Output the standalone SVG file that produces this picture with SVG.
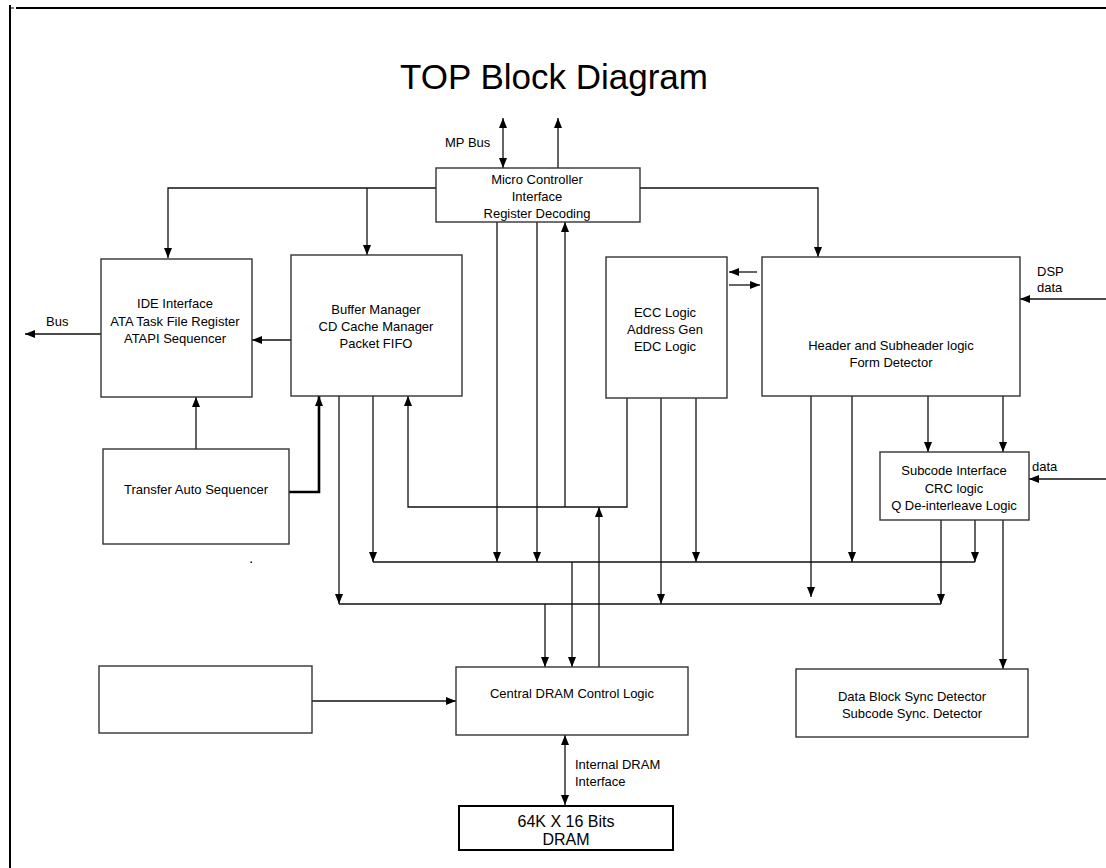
<svg xmlns="http://www.w3.org/2000/svg" width="1106" height="868" viewBox="0 0 1106 868">
<defs>
<style>
text{font-family:"Liberation Sans",Arial,sans-serif;font-size:13px;fill:#000}
.c{text-anchor:middle}
.box{fill:#fff;stroke:#333;stroke-width:1.4}
.ln{fill:none;stroke:#111;stroke-width:1.3}
.thk{fill:none;stroke:#000;stroke-width:2.6}
.frame{fill:none;stroke:#000;stroke-width:2}
</style>
<marker id="a" markerUnits="userSpaceOnUse" markerWidth="10" markerHeight="8" refX="10" refY="4" orient="auto-start-reverse">
<path d="M0,0 L10,4 L0,8 Z" fill="#000"/>
</marker>
</defs>
<rect width="1106" height="868" fill="#fff"/>
<g id="frame">
<line class="frame" x1="10" y1="5" x2="10" y2="868"/>
<line class="frame" x1="16" y1="8" x2="1106" y2="8"/>
<line x1="11" y1="8" x2="14" y2="8" stroke="#000" stroke-width="1"/>
<rect x="250.5" y="561.5" width="1.5" height="1.5" fill="#000"/>
</g>
<text x="554" y="89" class="c" style="font-size:35px">TOP Block Diagram</text>
<g id="connectors">
<path class="ln" d="M503,118 V168" marker-start="url(#a)" marker-end="url(#a)" stroke-width="1.8"/>
<path class="ln" d="M558,168 V118" marker-end="url(#a)"/>
<path class="ln" d="M436,188 H168 V258" marker-end="url(#a)"/>
<path class="ln" d="M367,188 V255" marker-end="url(#a)"/>
<path class="ln" d="M640,188 H818 V257" marker-end="url(#a)"/>
<path class="ln" d="M101,334 H25" marker-end="url(#a)" stroke-width="1.8"/>
<path class="ln" d="M291,340 H252" marker-end="url(#a)" stroke-width="1.8"/>
<path class="ln" d="M196,449 V397" marker-end="url(#a)"/>
<path class="thk" d="M289,492 H319 V396" marker-end="url(#a)"/>
<path class="ln" d="M339,396 V604" marker-end="url(#a)"/>
<path class="ln" d="M373,396 V562" marker-end="url(#a)"/>
<path class="ln" d="M627,398 V507 H408 V396" marker-end="url(#a)"/>
<path class="ln" d="M565,507 V222" marker-end="url(#a)"/>
<path class="ln" d="M497,222 V562" marker-end="url(#a)"/>
<path class="ln" d="M537,222 V562" marker-end="url(#a)"/>
<path class="ln" d="M599,667 V507" marker-end="url(#a)"/>
<path class="ln" d="M661,398 V604" marker-end="url(#a)"/>
<path class="ln" d="M696,398 V562" marker-end="url(#a)"/>
<path class="ln" d="M811,396 V597" marker-end="url(#a)"/>
<path class="ln" d="M852,396 V562" marker-end="url(#a)"/>
<path class="ln" d="M928,396 V452" marker-end="url(#a)"/>
<path class="ln" d="M1003,396 V452" marker-end="url(#a)"/>
<path class="ln" d="M373,562 H975"/>
<path class="ln" d="M339,604 H941"/>
<path class="ln" d="M975,520 V562" marker-end="url(#a)"/>
<path class="ln" d="M941,520 V604" marker-end="url(#a)"/>
<path class="ln" d="M1003,520 V669" marker-end="url(#a)"/>
<path class="ln" d="M572,562 V667" marker-end="url(#a)"/>
<path class="ln" d="M545,604 V667" marker-end="url(#a)"/>
<path class="ln" d="M312,701 H456" marker-end="url(#a)"/>
<path class="ln" d="M1106,299 H1020" marker-end="url(#a)"/>
<path class="ln" d="M1106,479 H1029" marker-end="url(#a)"/>
<path class="ln" d="M757,272 H729" marker-end="url(#a)"/>
<path class="ln" d="M729,285 H760" marker-end="url(#a)"/>
<path class="ln" d="M565,735 V805" marker-start="url(#a)" marker-end="url(#a)" stroke-width="1.8"/>
</g>
<g id="mpbus-label"><text x="445" y="147">MP Bus</text></g>
<g id="micro">
<rect class="box" x="436" y="168" width="204" height="54"/>
<text class="c" x="537" y="184">Micro Controller</text>
<text class="c" x="537" y="201">Interface</text>
<text class="c" x="537" y="218">Register Decoding</text>
</g>
<g id="ide">
<rect class="box" x="101" y="259" width="151" height="138"/>
<text class="c" x="175" y="308">IDE Interface</text>
<text class="c" x="175" y="326">ATA Task File Register</text>
<text class="c" x="175" y="343">ATAPI Sequencer</text>
</g>
<g id="bus-label"><text x="46" y="326">Bus</text></g>
<g id="buffer">
<rect class="box" x="291" y="255" width="171" height="141"/>
<text class="c" x="376" y="314">Buffer Manager</text>
<text class="c" x="376" y="331">CD Cache Manager</text>
<text class="c" x="376" y="348">Packet FIFO</text>
</g>
<g id="ecc">
<rect class="box" x="606" y="257" width="121" height="141"/>
<text class="c" x="665" y="317">ECC Logic</text>
<text class="c" x="665" y="334">Address Gen</text>
<text class="c" x="665" y="351">EDC Logic</text>
</g>
<g id="header">
<rect class="box" x="762" y="257" width="258" height="139"/>
<text class="c" x="891" y="350">Header and Subheader logic</text>
<text class="c" x="891" y="367">Form Detector</text>
</g>
<g id="dsp-label">
<text x="1037" y="276">DSP</text>
<text x="1037" y="292">data</text>
</g>
<g id="subcode">
<rect class="box" x="880" y="452" width="149" height="68"/>
<text class="c" x="954" y="475">Subcode Interface</text>
<text class="c" x="954" y="493">CRC logic</text>
<text class="c" x="954" y="510">Q De-interleave Logic</text>
</g>
<g id="data-label"><text x="1032" y="471">data</text></g>
<g id="tas">
<rect class="box" x="103" y="449" width="186" height="95"/>
<text class="c" x="196" y="494">Transfer Auto Sequencer</text>
</g>
<g id="empty">
<rect class="box" x="99" y="666" width="213" height="67"/>
</g>
<g id="central">
<rect class="box" x="456" y="667" width="232" height="68"/>
<text class="c" x="572" y="698">Central DRAM Control Logic</text>
</g>
<g id="idram-label">
<text x="575" y="769">Internal DRAM</text>
<text x="575" y="786">Interface</text>
</g>
<g id="dram">
<rect class="box" x="459" y="806" width="214" height="44" style="stroke:#000;stroke-width:2"/>
<text class="c" x="566" y="827" style="font-size:16px">64K X 16 Bits</text>
<text class="c" x="566" y="845" style="font-size:16px">DRAM</text>
</g>
<g id="datablock">
<rect class="box" x="796" y="669" width="232" height="68"/>
<text class="c" x="912" y="701">Data Block Sync Detector</text>
<text class="c" x="912" y="718">Subcode Sync. Detector</text>
</g>
</svg>
